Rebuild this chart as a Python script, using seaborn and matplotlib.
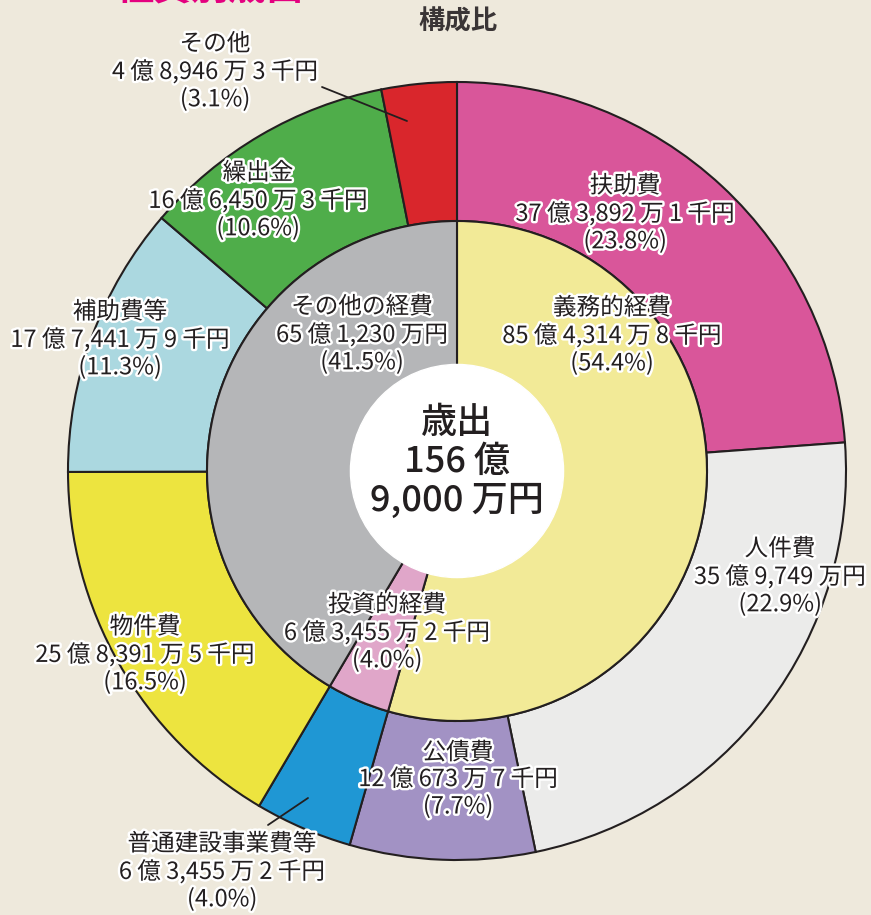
import numpy as np
import matplotlib
matplotlib.use('Agg')
import matplotlib.pyplot as plt
import matplotlib.patheffects as pe
import seaborn as sns

                    ### Data ###

# 金額は千円単位
outer_names = ['扶助費', '人件費', '公債費', '普通建設事業費等', '物件費', '補助費等', '繰出金', 'その他']
outer_values = [3738921, 3597490, 1206737, 634552, 2583915, 1774419, 1664503, 489463]
outer_colors = ['#d9569a', '#ebebea', '#a292c4', '#1f97d4', '#ede43f', '#abd8e0', '#4fad4a', '#d9262c']

inner_names = ['義務的経費', '投資的経費', 'その他の経費']
inner_values = [8543148, 634552, 6512300]
inner_colors = ['#f2ea97', '#e0a6c9', '#b5b6b8']

center_lines = ['歳出', '156 億', '9,000 万円']

# ラベル位置 (ピクセル, 中央行の中心)
outer_label_px = [(625, 214), (780, 577), (458, 780), (222, 872),
                  (145, 655), (120, 340), (258, 201), (215, 72)]
inner_label_px = [(612, 336), (387, 633), (362, 335)]

                    ### Layout ###

W, H = 871, 915
CX, CY, R = 457, 471, 389
r_mid = 250 / R
r_hole = 105 / R


def to_data(px, py):
    return (px - CX) / R, (CY - py) / R


def yen(v):
    oku = v // 100000
    man = (v % 100000) // 10
    sen = v % 10
    s = f'{oku} 億 {man:,} 万'
    return s + (f' {sen} 千円' if sen else '円')


sns.set_theme(style='white')
plt.rcParams['font.family'] = ['Noto Sans CJK JP', 'DejaVu Sans']
bg = '#eee9dc'

fig = plt.figure(figsize=(W / 100, H / 100), dpi=100, facecolor=bg)
ax = fig.add_axes([0, 0, 1, 1])
ax.set_facecolor(bg)

edge = dict(edgecolor='#231f20', linewidth=1.5)
ax.pie(outer_values, radius=1, startangle=90, counterclock=False,
       colors=outer_colors, wedgeprops=dict(width=1 - r_mid, **edge))
ax.pie(inner_values, radius=r_mid, startangle=90, counterclock=False,
       colors=inner_colors, wedgeprops=dict(width=r_mid - r_hole, **edge))
ax.add_patch(plt.Circle((0, 0), r_hole + 0.004, color='white', zorder=5))

x0, y0 = to_data(0, 0)
x1, y1 = to_data(W, H)
ax.set_xlim(x0, x1)
ax.set_ylim(y1, y0)
ax.set_aspect('equal')
ax.axis('off')

stroke = [pe.withStroke(linewidth=3.5, foreground='white')]
ink = '#231f20'

total = sum(outer_values)


def label(names, values, positions):
    for name, v, (px, py) in zip(names, values, positions):
        pct = v / total * 100
        x, y = to_data(px, py)
        ax.text(x, y, f'{name}\n{yen(v)}\n({pct:.1f}%)', ha='center', va='center',
                fontsize=17, color=ink, linespacing=1.2, path_effects=stroke, zorder=10)


label(outer_names, outer_values, outer_label_px)
label(inner_names, inner_values, inner_label_px)

# 引き出し線
for (ax_, ay_), (bx_, by_) in [((322, 87), (407, 121)), ((268, 825), (308, 798))]:
    a = to_data(ax_, ay_)
    b = to_data(bx_, by_)
    ax.plot([a[0], b[0]], [a[1], b[1]], color=ink, lw=1.3, zorder=9)

# 中央
cx, cy = to_data(457, 462)
ax.text(cx, cy, '\n'.join(center_lines), ha='center', va='center',
        fontsize=26, fontweight='medium', color=ink, linespacing=1.1, zorder=11)

# タイトル
tx, ty = to_data(458, 22)
ax.text(tx, ty, '構成比', ha='center', va='center', fontsize=19,
        fontweight='bold', color='#3a3536', zorder=11)
mx, my = to_data(210, -12)
ax.text(mx, my, '性質別歳出', ha='center', va='center', fontsize=27,
        fontweight='bold', color='#e4007f', zorder=11)

fig.savefig('out.png', dpi=100, facecolor=bg)
